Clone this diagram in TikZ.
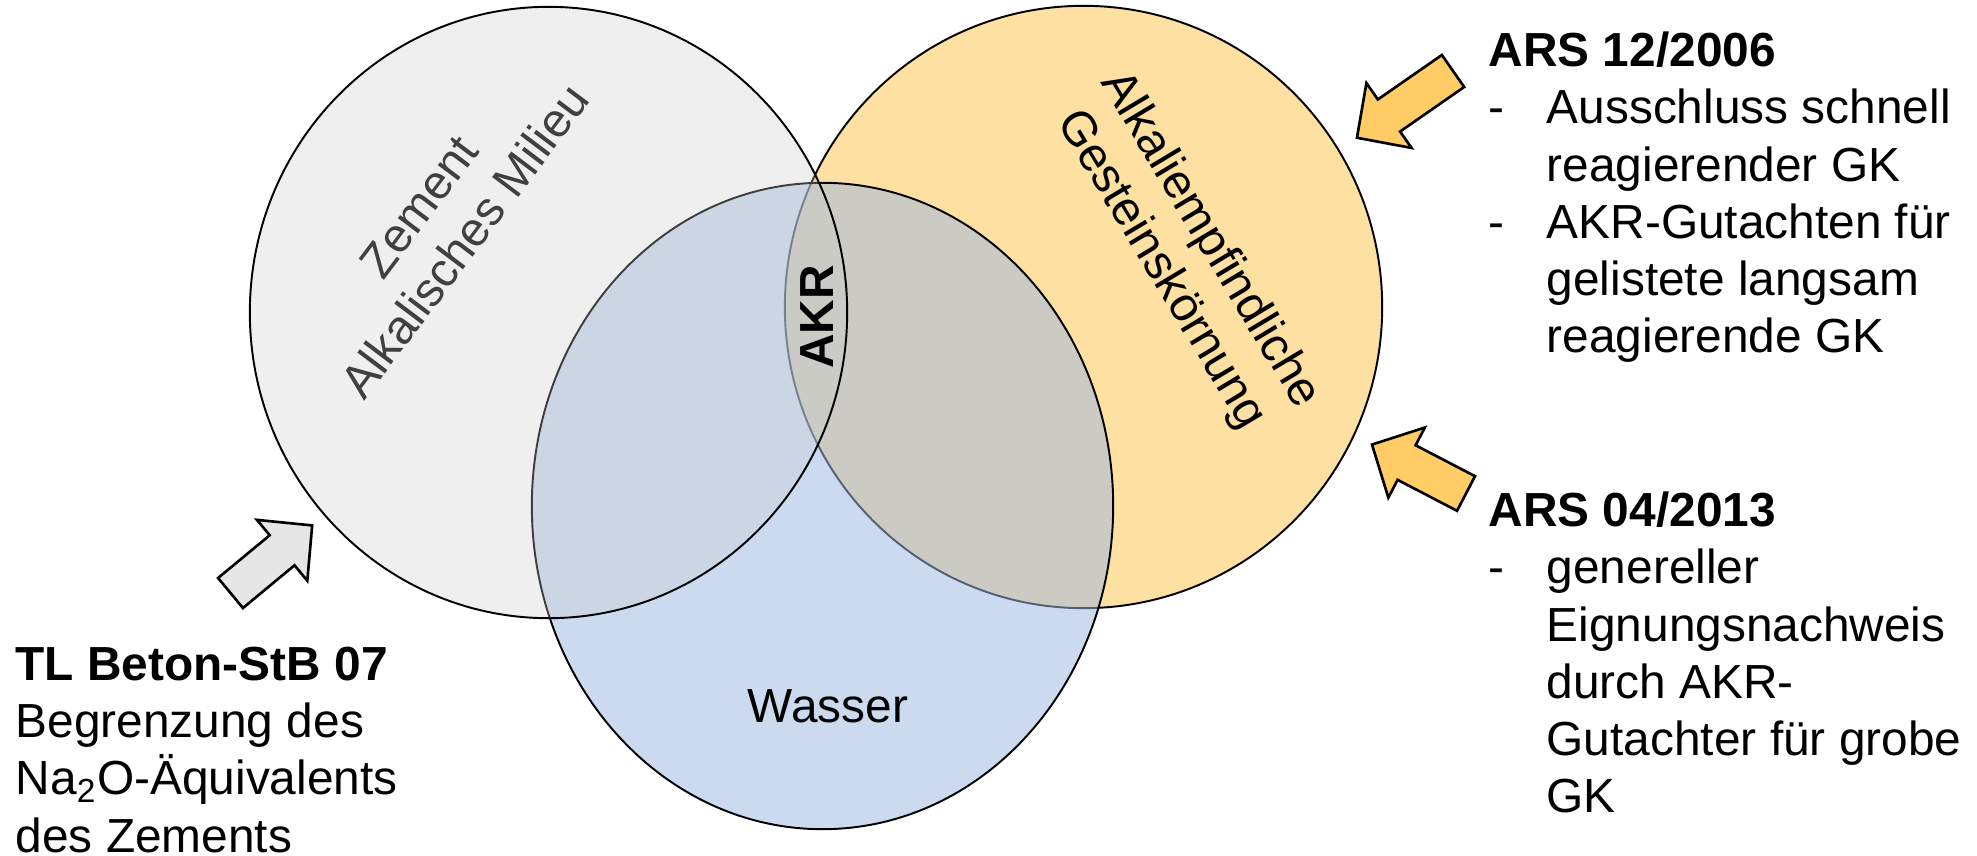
\documentclass[tikz,border=0pt]{standalone}
\usepackage{fontspec}
\setmainfont{Liberation Sans}

\definecolor{zementgrau}{RGB}{203,203,203}
\definecolor{gkorange}{RGB}{255,224,163}
\definecolor{wasserblau}{RGB}{158,185,226}
\definecolor{pfeilorange}{RGB}{255,204,102}
\definecolor{pfeilgrau}{RGB}{230,230,230}
\definecolor{schriftgrau}{RGB}{64,64,64}

% block arrow: start, angle, shaft length, fill
\newcommand{\blockpfeil}[4]{%
  \begin{scope}[shift={#1}, rotate=#2]
    \draw[pfeilrand, fill=#4] (0,-19.5) -- (#3,-19.5) -- (#3,-39.5)
      -- ({#3+39},0) -- (#3,39.5) -- (#3,19.5) -- (0,19.5) -- cycle;
  \end{scope}}

\begin{document}
\begin{tikzpicture}[x=0.01cm, y=-0.01cm,
  kreis/.style={draw=black, line width=0.55pt},
  pfeilrand/.style={draw=black, line width=0.75pt, line join=miter},
  etikett/.style={inner sep=0pt, font=\fontsize{13.6pt}{16.3pt}\selectfont},
  liste/.style={etikett, align=left, anchor=north west}]
  \useasboundingbox (0,0) rectangle (1977,855);
  % Kreise
  \draw[kreis, fill=gkorange] (1083.5,307) ellipse [x radius=2.985cm, y radius=3.01cm];
  \draw[kreis, fill=wasserblau, fill opacity=0.53] (822.5,506) ellipse [x radius=2.905cm, y radius=3.23cm];
  \draw[kreis, fill=zementgrau, fill opacity=0.31] (548.5,312.5) ellipse [x radius=2.985cm, y radius=3.055cm];

  \node[etikett, text=schriftgrau, rotate=53, align=center] (zement) at (442,224) {Zement\\Alkalisches Milieu};
  \node[etikett, rotate=-59, align=center] (gk) at (1185,255) {Alkaliempfindliche\\Gesteinskörnung};
  \node[etikett, font=\fontsize{13.6pt}{16.3pt}\selectfont\bfseries, rotate=90] (akr) at (817,317) {AKR};
  \node[etikett] (wasser) at (828,706) {Wasser};

  % Pfeile
  \blockpfeil{(230.5,593)}{39.6}{67}{pfeilgrau}
  \blockpfeil{(1453,71)}{214.8}{78}{pfeilorange}
  \blockpfeil{(1466,493.5)}{152.5}{67}{pfeilorange}

  % Texte
  \node[liste] (tlbeton) at (15,646)
    {\textbf{TL Beton-StB 07}\\Begrenzung des\\Na\textsubscript{2}O-Äquivalents\\des Zements};
  \node[liste] (ars2006) at (1488,31)
    {\textbf{ARS 12/2006}\\
     \makebox[0.58cm][l]{-}Ausschluss schnell\\
     \hspace*{0.58cm}reagierender GK\\
     \makebox[0.58cm][l]{-}AKR-Gutachten für\\
     \hspace*{0.58cm}gelistete langsam\\
     \hspace*{0.58cm}reagierende GK};
  \node[liste] (ars2013) at (1488,491)
    {\textbf{ARS 04/2013}\\
     \makebox[0.58cm][l]{-}genereller\\
     \hspace*{0.58cm}Eignungsnachweis\\
     \hspace*{0.58cm}durch AKR-\\
     \hspace*{0.58cm}Gutachter für grobe\\
     \hspace*{0.58cm}GK};
\end{tikzpicture}
\end{document}
